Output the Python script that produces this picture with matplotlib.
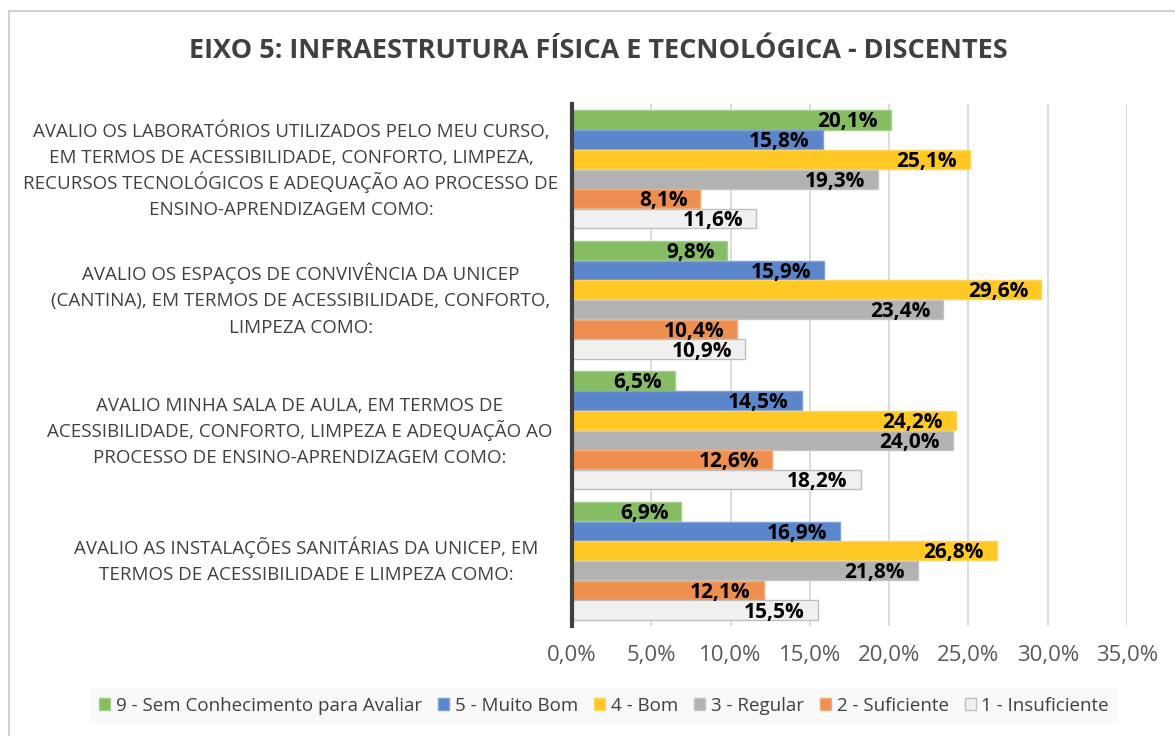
import numpy as np
import matplotlib.pyplot as plt
from matplotlib.patches import Rectangle
from matplotlib.transforms import blended_transform_factory

plt.rcParams['font.family'] = ['Open Sans', 'DejaVu Sans']

# dados
perguntas = [
    'AVALIO OS LABORATÓRIOS UTILIZADOS PELO MEU CURSO,\nEM TERMOS DE ACESSIBILIDADE, CONFORTO, LIMPEZA,\nRECURSOS TECNOLÓGICOS E ADEQUAÇÃO AO PROCESSO DE\nENSINO-APRENDIZAGEM COMO:',
    'AVALIO OS ESPAÇOS DE CONVIVÊNCIA DA UNICEP\n(CANTINA), EM TERMOS DE ACESSIBILIDADE, CONFORTO,\nLIMPEZA COMO:',
    'AVALIO MINHA SALA DE AULA, EM TERMOS DE\nACESSIBILIDADE, CONFORTO, LIMPEZA E ADEQUAÇÃO AO\nPROCESSO DE ENSINO-APRENDIZAGEM COMO:',
    'AVALIO AS INSTALAÇÕES SANITÁRIAS DA UNICEP, EM\nTERMOS DE ACESSIBILIDADE E LIMPEZA COMO:',
]
categorias = ['9 - Sem Conhecimento para Avaliar', '5 - Muito Bom', '4 - Bom',
              '3 - Regular', '2 - Suficiente', '1 - Insuficiente']
sem_conhecimento = [20.1, 9.8, 6.5, 6.9]
muito_bom = [15.8, 15.9, 14.5, 16.9]
bom = [25.1, 29.6, 24.2, 26.8]
regular = [19.3, 23.4, 24.0, 21.8]
suficiente = [8.1, 10.4, 12.6, 12.1]
insuficiente = [11.6, 10.9, 18.2, 15.5]

series = [sem_conhecimento, muito_bom, bom, regular, suficiente, insuficiente]
cores = ['#86bd63', '#5b86cc', '#ffc825', '#b2b2b2', '#ef8f4f', '#f0f0f0']
bordas = ['#a4cf8a', '#7da0d8', '#ffd65c', '#c4c4c4', '#f3aa78', '#bfbfbf']
centro_rotulo = [291, 301, 300, 306]  # centro horizontal (px) de cada bloco de texto

fig = plt.figure(figsize=(11.75, 7.36), dpi=100)
ax = fig.add_axes([572/1175, 1-626/736, 555/1175, 522/736])

# borda do gráfico
fig.patches.append(Rectangle((9/1175, -0.1), 1.2, 1-11/736+0.1, transform=fig.transFigure,
                             fill=False, edgecolor='#c8c8c8', linewidth=1.2))

y = np.arange(len(perguntas))
h = 0.151
for i, vals in enumerate(series):
    pos = y - 2.5*h + i*h
    bars = ax.barh(pos, vals, height=h*0.97, color=cores[i], edgecolor=bordas[i],
                   linewidth=1, label=categorias[i], zorder=3)
    for b, v in zip(bars, vals):
        ax.annotate(f'{v:.1f}%'.replace('.', ','), (b.get_width(), b.get_y() + b.get_height()/2),
                    xytext=(-13, -2), textcoords='offset pixels', ha='right', va='center',
                    fontsize=15, fontweight='bold', color='black', zorder=4)

ax.set_xlim(0, 35)
ax.set_ylim(3.5, -0.5)
ax.set_xticks(np.arange(0, 36, 5))
ax.set_xticklabels([f'{t:.1f}%'.replace('.', ',') for t in np.arange(0, 36, 5)],
                   fontsize=16, color='#595959')
ax.set_yticks([])
ax.tick_params(axis='x', length=0, pad=14)
ax.grid(axis='x', color='#d9d9d9', linewidth=1.3, zorder=0)
for s in ['top', 'right', 'bottom']:
    ax.spines[s].set_visible(False)
ax.spines['left'].set_color('#404040')
ax.spines['left'].set_linewidth(3)
ax.spines['left'].set_zorder(5)

# rótulos das perguntas, linha a linha, espaçamento uniforme (pela linha de base)
trans = blended_transform_factory(fig.transFigure, ax.transData)
for g, texto in enumerate(perguntas):
    linhas = texto.split('\n')
    n = len(linhas)
    for k, linha in enumerate(linhas):
        ax.text(centro_rotulo[g]/1175, g + (k - (n-1)/2)*0.2 + 0.051, linha, transform=trans,
                ha='center', va='baseline', fontsize=13.5, color='#404040')

fig.text(598/1175, 1-51/736, 'EIXO 5: INFRAESTRUTURA FÍSICA E TECNOLÓGICA - DISCENTES',
         ha='center', va='center', fontsize=19.5, fontweight='bold', color='#404040')

leg = fig.legend(loc='center', bbox_to_anchor=(604/1175, 1-706/736), ncol=6, fontsize=13.5,
                 frameon=True, facecolor='#f8f8f8', edgecolor='none', fancybox=False,
                 handlelength=0.6, handleheight=0.6, handletextpad=0.3, columnspacing=0.85,
                 borderpad=0.5, labelcolor='#404040')

fig.savefig('out.png', dpi=100)
